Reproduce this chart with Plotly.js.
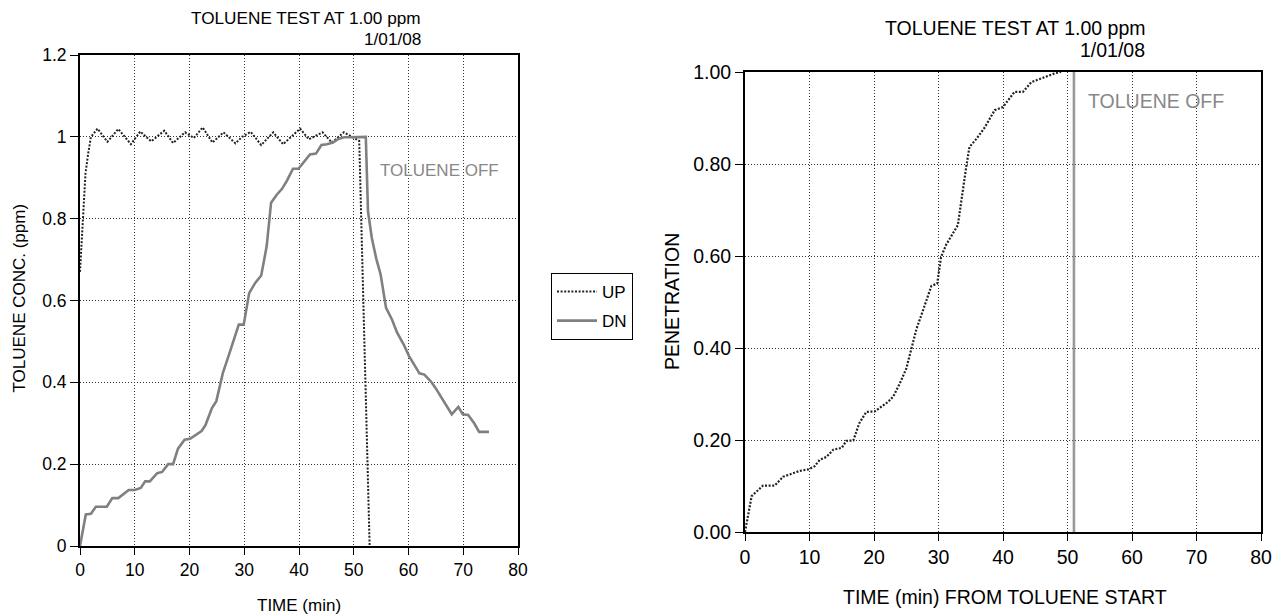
<!DOCTYPE html>
<html>
<head>
<meta charset="utf-8">
<script src="https://cdn.plot.ly/plotly-3.0.1.min.js"></script>
<style>html,body{margin:0;padding:0;background:#fff;}#chart{width:1281px;height:616px;}</style>
</head>
<body>
<div id="chart"></div>
<script>
// ---- Data ----
const upTime = [0, 0.4, 0.75, 1.0, 1.5, 2.0, 3.2, 5.0, 7.0, 9.3, 11.0, 13.0, 15.4, 17.0, 19.2, 20.8, 22.4, 24.2, 26.2, 28.4, 29.6, 31.2, 33.1, 35.3, 37.1, 38.5, 40.2, 41.8, 44.3, 46.0, 48.2, 50.5, 51.0, 52.9];
const upConc = [0.67, 0.77, 0.85, 0.91, 0.96, 1.0, 1.02, 0.988, 1.019, 0.982, 1.013, 0.989, 1.015, 0.985, 1.011, 0.997, 1.023, 0.986, 1.011, 0.984, 1.0, 1.012, 0.98, 1.011, 0.982, 1.0, 1.02, 0.994, 1.011, 0.986, 1.011, 0.994, 0.99, 0.0];

const dnTime = [0, 1.06, 2.0, 2.9, 4.9, 5.9, 7.0, 7.9, 8.9, 10.0, 11.1, 11.9, 12.75, 14.1, 15.0, 16.1, 17.0, 17.9, 19.1, 20.1, 21.1, 22.2, 22.9, 24.1, 24.9, 26.1, 27.2, 28.25, 29.0, 29.9, 30.9, 32.0, 33.1, 34.1, 34.9, 35.9, 36.9, 37.8, 38.9, 39.9, 40.9, 42.0, 43.1, 44.1, 45.1, 46.2, 47.2, 48.25, 49.2, 50.1, 51.1, 52.2, 52.6, 53.3, 54.1, 54.9, 55.9, 57.0, 57.9, 59.1, 60.1, 61.2, 62.0, 62.9, 64.1, 64.9, 66.1, 67.0, 67.9, 69.1, 69.9, 70.9, 72.0, 72.9, 74.7];
const dnConc = [0, 0.077, 0.079, 0.096, 0.096, 0.117, 0.117, 0.127, 0.137, 0.137, 0.142, 0.158, 0.158, 0.178, 0.181, 0.2, 0.2, 0.238, 0.26, 0.262, 0.271, 0.281, 0.295, 0.337, 0.354, 0.423, 0.467, 0.51, 0.541, 0.541, 0.618, 0.643, 0.661, 0.733, 0.839, 0.858, 0.873, 0.893, 0.922, 0.922, 0.94, 0.957, 0.959, 0.98, 0.982, 0.986, 0.995, 0.999, 0.999, 0.999, 1.0, 1.0, 0.818, 0.753, 0.703, 0.664, 0.582, 0.553, 0.522, 0.493, 0.464, 0.438, 0.422, 0.419, 0.402, 0.387, 0.361, 0.342, 0.322, 0.34, 0.322, 0.32, 0.3, 0.279, 0.279];

const penTime = [0, 1.03, 2.8, 4.6, 5.9, 7.5, 8.5, 9.8, 10.8, 11.6, 12.6, 13.7, 15.0, 15.7, 16.8, 17.7, 18.8, 20.1, 21.2, 22.2, 23.0, 24.0, 25.0, 25.8, 26.6, 27.6, 28.9, 29.8, 30.4, 31.2, 32.0, 33.0, 34.3, 34.8, 35.9, 37.2, 38.7, 40.0, 41.8, 43.1, 44.4, 45.9, 47.2, 48.2, 49.0];
const penValue = [0, 0.078, 0.101, 0.101, 0.12, 0.127, 0.133, 0.136, 0.143, 0.157, 0.163, 0.179, 0.183, 0.198, 0.199, 0.236, 0.261, 0.262, 0.273, 0.283, 0.295, 0.323, 0.355, 0.402, 0.442, 0.482, 0.535, 0.54, 0.598, 0.625, 0.645, 0.667, 0.794, 0.837, 0.855, 0.88, 0.917, 0.924, 0.957, 0.957, 0.978, 0.986, 0.994, 0.998, 1.0];

const tolueneOffTime = 51;
const seriesNames = ['UP', 'DN'];
const chartTitle = 'TOLUENE TEST AT 1.00 ppm';
const chartDate = '1/01/08';
const offLabel = 'TOLUENE OFF';

// ---- Figure ----
const W = 1281, H = 616;
const px = v => v / W;
const py = v => 1 - v / H;
const FONT = 'Liberation Sans, Arial, Helvetica, sans-serif';

const traces = [
  {x: upTime, y: upConc, name: seriesNames[0], type: 'scatter', mode: 'lines', xaxis: 'x', yaxis: 'y',
   line: {color: '#222', width: 2, dash: '2px,1.6px'}, legendgroup: 'a'},
  {x: dnTime, y: dnConc, name: seriesNames[1], type: 'scatter', mode: 'lines', xaxis: 'x', yaxis: 'y',
   line: {color: '#808080', width: 2.6}, legendgroup: 'b'},
  {x: penTime, y: penValue, name: 'PENETRATION', type: 'scatter', mode: 'lines', xaxis: 'x2', yaxis: 'y2',
   line: {color: '#222', width: 2.2, dash: '2px,1.6px'}, showlegend: false}
];

function xAxis(domain, fs, anchor) {
  return {domain: domain, range: [0, 80], dtick: 10, tick0: 0, anchor: anchor,
    showline: true, linecolor: '#000', linewidth: 2, mirror: true,
    ticks: 'outside', ticklen: 7, tickcolor: '#000', tickwidth: 1,
    showgrid: true, gridcolor: '#333', gridwidth: 1, griddash: '1px,2px',
    zeroline: false, tickfont: {family: FONT, size: fs, color: '#000'}, fixedrange: true};
}
function yAxis(domain, range, fs, anchor, fmt) {
  const a = {domain: domain, range: range, dtick: 0.2, tick0: 0, anchor: anchor,
    showline: true, linecolor: '#000', linewidth: 2, mirror: true,
    ticks: 'outside', ticklen: 8, tickcolor: '#000', tickwidth: 1,
    showgrid: true, gridcolor: '#333', gridwidth: 1, griddash: '1px,2px',
    zeroline: false, tickfont: {family: FONT, size: fs, color: '#000'}, fixedrange: true};
  if (fmt) a.tickformat = fmt;
  return a;
}

function txt(text, x, y, size, opts) {
  return Object.assign({text: text, xref: 'paper', yref: 'paper', x: x, y: y,
    showarrow: false, font: {family: FONT, size: size, color: '#000'},
    xanchor: 'center', yanchor: 'middle'}, opts || {});
}

const layout = {
  width: W, height: H, autosize: false,
  margin: {l: 0, r: 0, t: 0, b: 0, pad: 0},
  paper_bgcolor: '#fff', plot_bgcolor: '#fff',
  font: {family: FONT, color: '#000'},
  xaxis: xAxis([px(80), px(518)], 17.5, 'y'),
  yaxis: yAxis([py(546), py(55)], [0, 1.2], 17.5, 'x'),
  xaxis2: xAxis([px(745), px(1261)], 19.5, 'y2'),
  yaxis2: yAxis([py(532), py(72)], [0, 1.0], 19.5, 'x2', '.2f'),
  showlegend: true,
  legend: {x: px(551), y: py(273), xanchor: 'left', yanchor: 'top',
    bordercolor: '#000', borderwidth: 1, bgcolor: '#fff', itemwidth: 40,
    font: {family: FONT, size: 17, color: '#000'},
    traceorder: 'grouped', tracegroupgap: 4},
  shapes: [
    {type: 'line', xref: 'x2', yref: 'y2', x0: tolueneOffTime, x1: tolueneOffTime, y0: 0, y1: 1,
     line: {color: '#999', width: 2.6}}
  ],
  annotations: [
    txt(chartTitle, px(423), py(17.5), 17.2, {xanchor: 'right'}),
    txt(chartDate, px(423), py(39), 17.2, {xanchor: 'right'}),
    txt(chartTitle, px(1147), py(28), 19.5, {xanchor: 'right'}),
    txt(chartDate, px(1147), py(50), 19.5, {xanchor: 'right'}),
    txt('TIME (min)', px(299), py(605), 17),
    txt('TOLUENE CONC. (ppm)', px(18.5), py(298), 17, {textangle: -90}),
    txt('TIME (min) FROM TOLUENE START', px(1005), py(597), 19.5),
    txt('PENETRATION', px(672), py(302), 19.5, {textangle: -90}),
    {text: offLabel, xref: 'x', yref: 'y', x: 54.5, y: 0.917, showarrow: false,
     xanchor: 'left', yanchor: 'middle', font: {family: FONT, size: 17, color: '#888'}},
    {text: offLabel, xref: 'x2', yref: 'y2', x: 52.9, y: 0.937, showarrow: false,
     xanchor: 'left', yanchor: 'middle', font: {family: FONT, size: 19.5, color: '#888'}}
  ]
};

Plotly.newPlot('chart', traces, layout, {staticPlot: true, displayModeBar: false});
</script>
</body>
</html>
